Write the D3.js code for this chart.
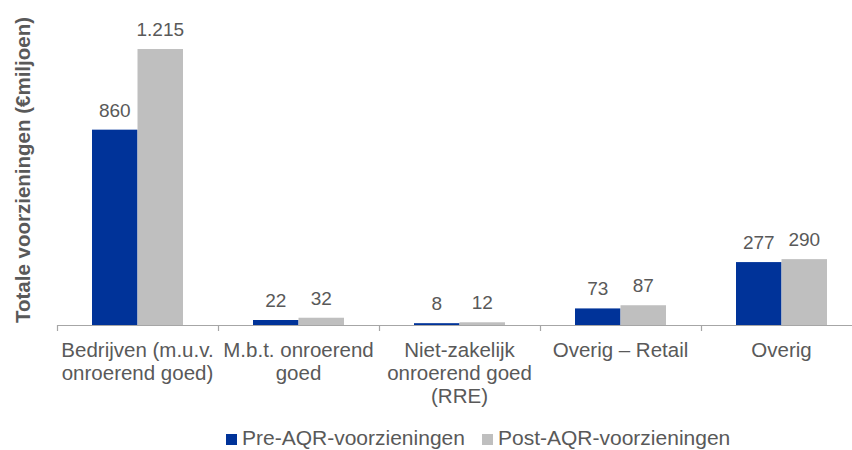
<!DOCTYPE html>
<html>
<head>
<meta charset="utf-8">
<style>
  body { margin: 0; background: #fff; }
  text { font-family: "Liberation Sans", Arial, sans-serif; fill: #595959; }
</style>
</head>
<body>
<svg width="852" height="450"></svg>
<script src="https://d3js.org/d3.v7.min.js"></script>
<script>

// chart data
var categories = [
  ["Bedrijven (m.u.v.", "onroerend goed)"],
  ["M.b.t. onroerend", "goed"],
  ["Niet-zakelijk", "onroerend goed", "(RRE)"],
  ["Overig \u2013 Retail"],
  ["Overig"]
];
var seriesNames = ["Pre-AQR-voorzieningen", "Post-AQR-voorzieningen"];
var preAQR = [860, 22, 8, 73, 277];
var postAQR = [1215, 32, 12, 87, 290];
var valueLabels = [
  ["860", "22", "8", "73", "277"],
  ["1.215", "32", "12", "87", "290"]
];
var colors = ["#003399", "#bfbfbf"];

var svg = d3.select("svg");

// plot area
var left = 57, bottom = 325;
var catWidth = 161;

var x = d3.scaleBand()
  .domain(d3.range(categories.length))
  .range([left, left + catWidth * categories.length])
  .paddingInner(0)
  .paddingOuter(0);

var x1 = d3.scaleBand()
  .domain([0, 1])
  .range([35, catWidth - 35]);

var y = d3.scaleLinear()
  .domain([0, 1400])
  .range([bottom, 7]);

var series = [preAQR, postAQR];

// bars
series.forEach(function(vals, s) {
  svg.append("g").selectAll("rect")
    .data(vals)
    .enter()
    .append("rect")
    .attr("x", function(d, i) { return x(i) + x1(s); })
    .attr("y", function(d) { return y(d); })
    .attr("width", x1.bandwidth())
    .attr("height", function(d) { return y(0) - y(d); })
    .style("fill", colors[s]);

  svg.append("g").selectAll("text")
    .data(vals)
    .enter()
    .append("text")
    .attr("x", function(d, i) { return x(i) + x1(s) + x1.bandwidth() / 2; })
    .attr("y", function(d) { return y(d) - 13; })
    .attr("text-anchor", "middle")
    .style("font-size", "19px")
    .text(function(d, i) { return valueLabels[s][i]; });
});

// x axis line + tick marks between categories
var axis = svg.append("g");
axis.append("line")
  .attr("x1", left).attr("x2", left + catWidth * categories.length)
  .attr("y1", bottom + 0.5).attr("y2", bottom + 0.5)
  .style("stroke", "#a6a6a6").style("stroke-width", 1.2);

axis.selectAll("line.tick")
  .data(d3.range(categories.length + 1))
  .enter()
  .append("line")
  .attr("class", "tick")
  .attr("x1", function(d) { return left + d * catWidth + 0.5; })
  .attr("x2", function(d) { return left + d * catWidth + 0.5; })
  .attr("y1", bottom).attr("y2", bottom + 6)
  .style("stroke", "#a6a6a6").style("stroke-width", 1.2);

// category labels
var catLabels = svg.append("g").selectAll("text")
  .data(categories)
  .enter()
  .append("text")
  .attr("text-anchor", "middle")
  .style("font-size", "20.5px")
  .attr("transform", function(d, i) { return "translate(" + (x(i) + catWidth / 2) + ",357)"; });

catLabels.selectAll("tspan")
  .data(function(d) { return d; })
  .enter()
  .append("tspan")
  .attr("x", 0)
  .attr("y", function(d, i) { return i * 23; })
  .text(function(d) { return d; });

// y axis title
svg.append("text")
  .attr("transform", "translate(30,170) rotate(-90)")
  .attr("text-anchor", "middle")
  .style("font-size", "20.5px")
  .style("font-weight", "bold")
  .text("Totale voorzieningen (\u20acmiljoen)");

// legend
var legendX = [226, 482];
var legend = svg.append("g").selectAll("g")
  .data(seriesNames)
  .enter()
  .append("g")
  .attr("transform", function(d, i) { return "translate(" + legendX[i] + ",434)"; });

legend.append("rect")
  .attr("width", 11).attr("height", 11)
  .style("fill", function(d, i) { return colors[i]; });

legend.append("text")
  .attr("x", 16)
  .attr("y", 11)
  .style("font-size", "21px")
  .text(function(d) { return d; });

</script>
</body>
</html>
